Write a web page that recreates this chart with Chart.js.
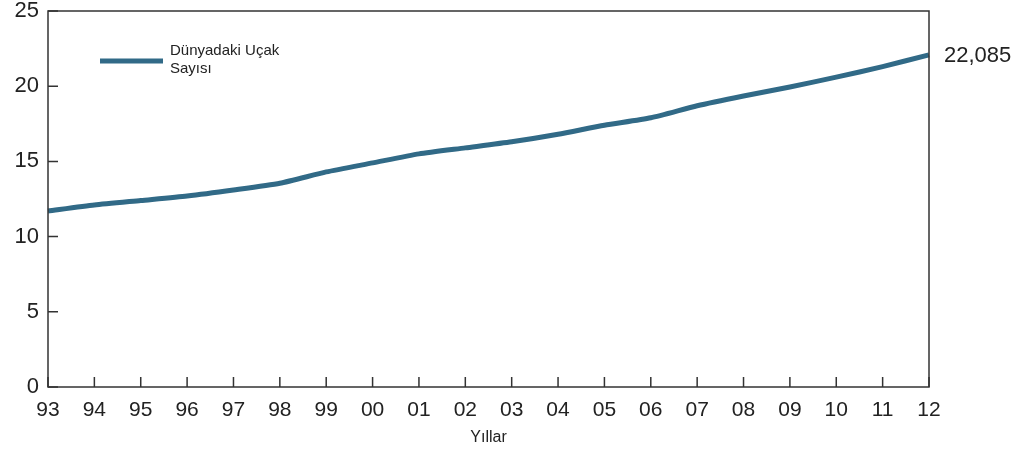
<!DOCTYPE html>
<html>
<head>
<meta charset="utf-8">
<script src="https://cdn.jsdelivr.net/npm/chart.js@4/dist/chart.umd.min.js"></script>
<style>
  html, body { margin: 0; padding: 0; background: #ffffff; }
  #wrap { width: 1021px; height: 450px; }
</style>
</head>
<body>
<div id="wrap"><canvas id="c" width="1021" height="450"></canvas></div>
<script>
// Years (two-digit labels) and number of aircraft in the world (thousands)
const years = ['93','94','95','96','97','98','99','00','01','02','03','04','05','06','07','08','09','10','11','12'];
const aircraft = [11.7, 12.1, 12.4, 12.7, 13.1, 13.55, 14.3, 14.9, 15.5, 15.9, 16.3, 16.8, 17.4, 17.9, 18.7, 19.35, 19.95, 20.6, 21.3, 22.085];
const legendLines = ['Dünyadaki Uçak', 'Sayısı'];
const yTicks = [0, 5, 10, 15, 20, 25];
const xTitle = 'Yıllar';

const LINE_COLOR = '#316a87';
const AXIS_COLOR = '#333333';
const TEXT_COLOR = '#222222';
const FONT = '"Liberation Sans", Arial, sans-serif';

// Frame around the plot area plus inward-pointing tick marks
const framePlugin = {
  id: 'frame',
  afterDraw(chart) {
    const { ctx, chartArea: a, scales } = chart;
    ctx.save();
    ctx.strokeStyle = AXIS_COLOR;
    ctx.lineWidth = 1.5;
    ctx.strokeRect(a.left, a.top, a.right - a.left, a.bottom - a.top);
    ctx.beginPath();
    scales.y.ticks.forEach((t, i) => {
      const y = scales.y.getPixelForTick(i);
      ctx.moveTo(a.left, y);
      ctx.lineTo(a.left + 10, y);
    });
    scales.x.ticks.forEach((t, i) => {
      const x = scales.x.getPixelForTick(i);
      ctx.moveTo(x, a.bottom);
      ctx.lineTo(x, a.bottom - 10);
    });
    ctx.stroke();
    ctx.restore();
  }
};

// Legend key inside the plot and the end-value label on the right
const labelsPlugin = {
  id: 'labels',
  afterDatasetsDraw(chart) {
    const { ctx } = chart;
    const ds = chart.data.datasets[0];
    ctx.save();
    // legend
    ctx.strokeStyle = ds.borderColor;
    ctx.lineWidth = 5;
    ctx.beginPath();
    ctx.moveTo(100, 61);
    ctx.lineTo(163, 61);
    ctx.stroke();
    ctx.fillStyle = TEXT_COLOR;
    ctx.font = '15px ' + FONT;
    ctx.textAlign = 'left';
    ctx.textBaseline = 'middle';
    legendLines.forEach((line, i) => ctx.fillText(line, 170, 51 + i * 18));
    // last value label
    const meta = chart.getDatasetMeta(0);
    const last = meta.data[meta.data.length - 1];
    const v = ds.data[ds.data.length - 1];
    ctx.font = '22px ' + FONT;
    ctx.fillText(v.toFixed(3).replace('.', ','), last.x + 15, last.y + 1);
    ctx.restore();
  }
};

new Chart(document.getElementById('c'), {
  type: 'line',
  data: {
    labels: years,
    datasets: [{
      label: legendLines.join(' '),
      data: aircraft,
      borderColor: LINE_COLOR,
      borderWidth: 5,
      pointRadius: 0,
      tension: 0.2,
      fill: false,
      borderCapStyle: 'butt'
    }]
  },
  options: {
    responsive: false,
    animation: false,
    devicePixelRatio: 1,
    layout: { padding: { top: 11, right: 92, left: 0, bottom: 0 } },
    plugins: { legend: { display: false }, tooltip: { enabled: false } },
    scales: {
      x: {
        offset: false,
        grid: { display: false, drawTicks: false },
        border: { display: false },
        ticks: { color: TEXT_COLOR, font: { family: FONT, size: 21, lineHeight: 1.2 }, padding: 11, maxRotation: 0, autoSkip: false },
        title: { display: true, text: xTitle, color: TEXT_COLOR, font: { family: FONT, size: 16 }, padding: { top: 0, bottom: 3 } },
        afterFit(scale) { scale.height = 63; scale.paddingLeft = 0; scale.paddingRight = 0; }
      },
      y: {
        min: 0,
        max: 25,
        afterBuildTicks(scale) { scale.ticks = yTicks.map(v => ({ value: v })); },
        grid: { display: false, drawTicks: false },
        border: { display: false },
        ticks: { color: TEXT_COLOR, font: { family: FONT, size: 22, lineHeight: 1.0 }, padding: 9 },
        afterFit(scale) { scale.width = 48; scale.paddingTop = 0; scale.paddingBottom = 0; }
      }
    }
  },
  plugins: [framePlugin, labelsPlugin]
});
</script>
</body>
</html>
